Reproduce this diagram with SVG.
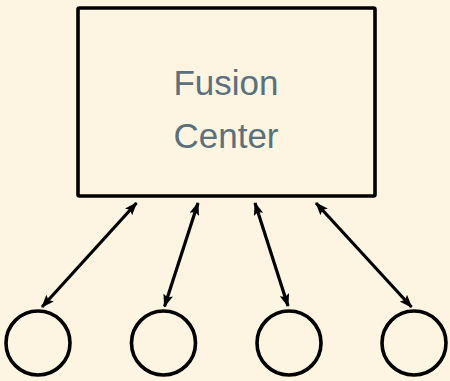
<svg xmlns="http://www.w3.org/2000/svg" width="450" height="381" viewBox="0 0 450 381">
  <defs>
    <marker id="arrow" viewBox="0 0 13 10" refX="12" refY="5" markerWidth="13" markerHeight="10" markerUnits="userSpaceOnUse" orient="auto-start-reverse">
      <path d="M0,0 L13,5 L0,10 L2.5,5 Z" fill="#000"/>
    </marker>
    <style>
      .node { fill: none; stroke: #000; stroke-width: 3.6; }
      .label { font-family: "Liberation Sans", Arial, sans-serif; font-size: 35px; fill: #5a707a; text-anchor: middle; }
      .link { stroke: #000; stroke-width: 3.2; fill: none; marker-start: url(#arrow); marker-end: url(#arrow); }
    </style>
  </defs>
  <rect width="450" height="381" fill="#fdf5e2"/>

  <g id="fusion-center">
    <rect class="node" x="78" y="8" width="297" height="188" rx="1.5"/>
    <text class="label" x="226" y="95">Fusion</text>
    <text class="label" x="226" y="148">Center</text>
  </g>

  <g id="sensor-1"><circle class="node" cx="38" cy="343" r="32"/></g>
  <g id="sensor-2"><circle class="node" cx="163.5" cy="343" r="32"/></g>
  <g id="sensor-3"><circle class="node" cx="289" cy="343" r="32"/></g>
  <g id="sensor-4"><circle class="node" cx="414" cy="343" r="32"/></g>

  <g id="connectors">
    <line class="link" x1="136.5" y1="203" x2="42" y2="307"/>
    <line class="link" x1="198" y1="203" x2="164.5" y2="306.5"/>
    <line class="link" x1="255" y1="203" x2="288" y2="306"/>
    <line class="link" x1="316" y1="203" x2="411.5" y2="307"/>
  </g>
</svg>
